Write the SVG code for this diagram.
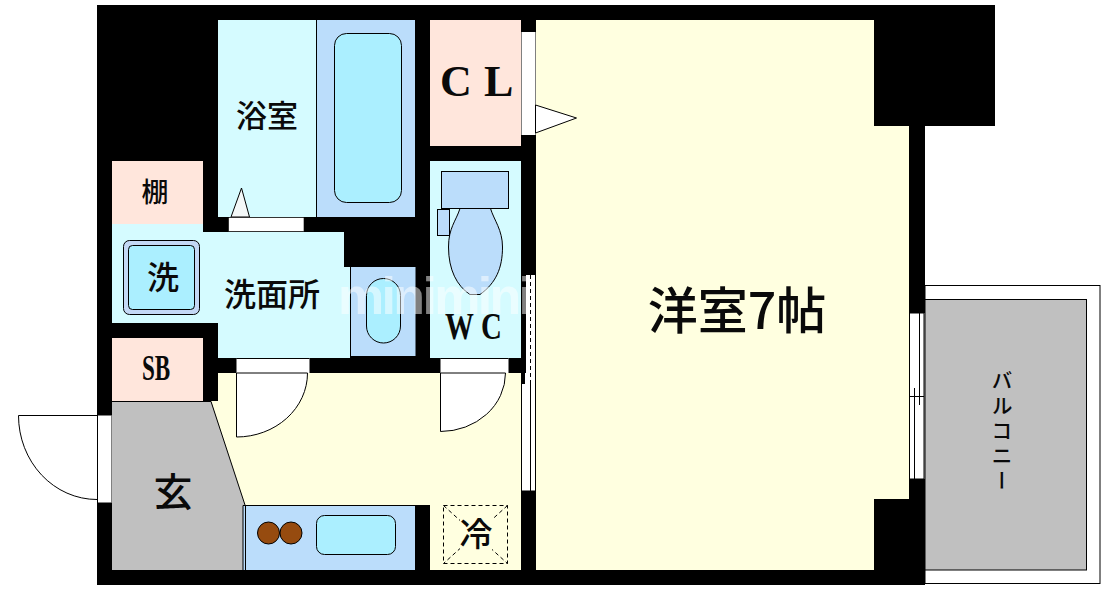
<svg xmlns="http://www.w3.org/2000/svg" width="1110" height="592" viewBox="0 0 1110 592">
<style>
.ln{stroke:#000;stroke-width:1;fill:none}
.bl{stroke:#000;stroke-width:1;fill:#BBDDFB}
.aq{stroke:#000;stroke-width:1;fill:#ABEFFF}
.wh{fill:#fff}
.t{font-family:"Noto Sans CJK JP",sans-serif;font-weight:500;fill:#0a0a0a;text-anchor:middle}
.s{font-family:"Liberation Serif",serif;font-weight:700;fill:#0a0a0a}
</style>
<rect width="1110" height="592" fill="#fff"/>
<g id="balcony">
<rect x="925" y="285.500" width="175" height="298" fill="#fff" stroke="#000"/>
<rect x="925" y="299.500" width="161.500" height="270.500" fill="#C0C0C0" stroke="#000"/>
<text font-family="Noto Sans CJK JP, sans-serif" font-weight="500" font-size="21" fill="#0a0a0a" x="1002" y="370" style="writing-mode:vertical-rl;letter-spacing:4px">バルコニー</text>
</g>
<g id="walls">
<path d="M97 5H995V126H925V585H97Z" fill="#000"/>
</g>
<g id="room-main">
<path d="M536 20H874V126H909V499H874V570H536Z" fill="#FFFFE0"/>
<text class="t" font-size="50" x="737" y="329" font-weight="700">洋室7帖</text>
</g>
<g id="window">
<rect x="909.500" y="313" width="15" height="166" class="wh"/>
<path class="ln" d="M909.500 313V479M924 313V479M914.500 388V479M919.500 313V405M909.500 396.500H924M909.500 313H924M909.500 479H924"/>
</g>
<g id="closet">
<rect x="430" y="20" width="91" height="126" fill="#FFE6DC"/>
<text class="s" font-size="44" x="440 484" y="96">CL</text>
<rect x="521.500" y="32" width="14" height="103" fill="#fff"/>
<path d="M535.500 105L576.500 118L535.500 133Z" fill="#fff" stroke="#000"/>
</g>
<g id="wc">
<rect x="430" y="161" width="91" height="197" fill="#D5FBFF"/>
<path class="bl" d="M460 208.500C456 221 448.500 228 448.500 247C448.500 270 457 286 470 294.500H480C496 283 502.500 268 502.500 247C502.500 230 494 220 490.500 208.500Z"/>
<rect class="bl" x="441.500" y="171.500" width="67" height="37"/>
<rect class="bl" x="437.500" y="209.500" width="12" height="26"/>
<text class="s" font-size="37" x="0 46" y="0" transform="translate(445 339) scale(0.78 1)">WC</text>
</g>
<g id="bath">
<rect x="218" y="20" width="99" height="197" fill="#D5FBFF"/>
<rect x="317" y="20" width="98" height="197" fill="#BBDDFB"/>
<path class="ln" d="M316.500 20V217"/>
<rect class="aq" x="334.500" y="33.500" width="67" height="169" rx="12"/>
<text class="t" font-size="31" x="267" y="127">浴室</text>
<path d="M231 217L241.500 188L249.500 217Z" fill="#F4F8F8" stroke="#000"/>
<rect x="228.500" y="217.500" width="75.500" height="14" fill="#fff" stroke="#000" stroke-width="0.600"/>
</g>
<g id="shelf">
<rect x="112" y="161" width="91" height="63" fill="#FFE6DC"/>
<text class="t" font-size="27" x="155" y="202">棚</text>
</g>
<g id="washroom">
<path d="M112 224H203V232H344V267H350V358H218V323H112Z" fill="#D5FBFF"/>
<rect x="350.500" y="267" width="65" height="89" fill="#BBDDFB"/>
<path class="ln" d="M350.500 267V356.500H415"/>
<rect class="aq" x="366.500" y="278.500" width="34" height="64.500" rx="17"/>
<rect x="123.500" y="240.500" width="76" height="74" rx="6" fill="#C4D8F5" stroke="#000"/>
<rect class="aq" x="128.500" y="245.500" width="66" height="64" rx="4"/>
<text class="t" font-size="32" x="163" y="289">洗</text>
<text class="t" font-size="32" x="272" y="306">洗面所</text>
</g>
<g id="sb">
<rect x="112" y="338" width="91" height="63" fill="#FFE6DC"/>
<text class="s" font-size="35" font-weight="400" text-anchor="middle" transform="translate(156 380) scale(0.66 1)">SB</text>
</g>
<g id="hall">
<path d="M218 373H521V570H430V505H243L211 401H218Z" fill="#FFFFE0"/>
<rect x="236.500" y="358.500" width="73" height="14.500" fill="#fff"/>
<path d="M236.500 373V437A71 64 0 0 0 307.500 373Z" fill="#fff" stroke="#000"/>
<rect x="440.500" y="358.500" width="68" height="14.500" fill="#fff"/>
<path d="M440.500 373V431.500A65 58.500 0 0 0 505.500 373Z" fill="#fff" stroke="#000"/>
<path class="ln" d="M440.500 358.500H508"/>
<path class="ln" d="M236.500 358.500H309"/>
</g>
<g id="slider">
<rect x="525" y="275" width="10.500" height="109" fill="#fff"/>
<rect x="521.500" y="384" width="14" height="107" fill="#fff"/>
<path class="ln" d="M525.500 275V373M535.500 275V491M521.500 384V491M521.500 491H535.500"/>
<path class="ln" d="M530.500 275V384" stroke-dasharray="4 3"/>
<path class="ln" d="M530.500 384V491"/>
</g>
<g id="entrance">
<path d="M112 401H211L245 505L243 570H112Z" fill="#C0C0C0"/>
<path class="ln" d="M112 401.500H211L245 505"/>
<text class="t" font-size="39" x="173" y="506">玄</text>
<rect x="97.500" y="415" width="14" height="88" fill="#fff"/>
<path class="ln" d="M97.500 415H111.500M97.500 503H111.500M97.500 415V503"/>
<path class="ln" d="M97 415.500H18.500A78.500 84 0 0 0 97 499.500"/>
</g>
<g id="kitchen">
<rect x="243" y="505" width="172" height="65" fill="#BBDDFB"/>
<path class="ln" d="M243 505.500H415M243 505.500V570M245.500 505.500V570"/>
<circle cx="268.500" cy="533" r="11" fill="#964B0F" stroke="#000"/>
<circle cx="291" cy="533" r="11" fill="#964B0F" stroke="#000"/>
<rect class="aq" x="316.500" y="515.500" width="79" height="39" rx="8"/>
</g>
<g id="fridge">
<rect x="443.500" y="505.500" width="64" height="58" fill="none" stroke="#000" stroke-dasharray="4 3"/>
<path class="ln" d="M443.500 505.500L507.500 563.500M507.500 505.500L443.500 563.500" stroke-dasharray="4 3"/>
<rect x="460" y="518" width="32" height="32" fill="#FFFFE0"/>
<text class="t" font-size="33" x="476" y="546">冷</text>
</g>
<g id="watermark">
<text x="338" y="314" font-family="Liberation Sans, sans-serif" font-weight="700" font-size="52" fill="#fff" fill-opacity="0.5" textLength="195">minimini</text>
</g>
</svg>
